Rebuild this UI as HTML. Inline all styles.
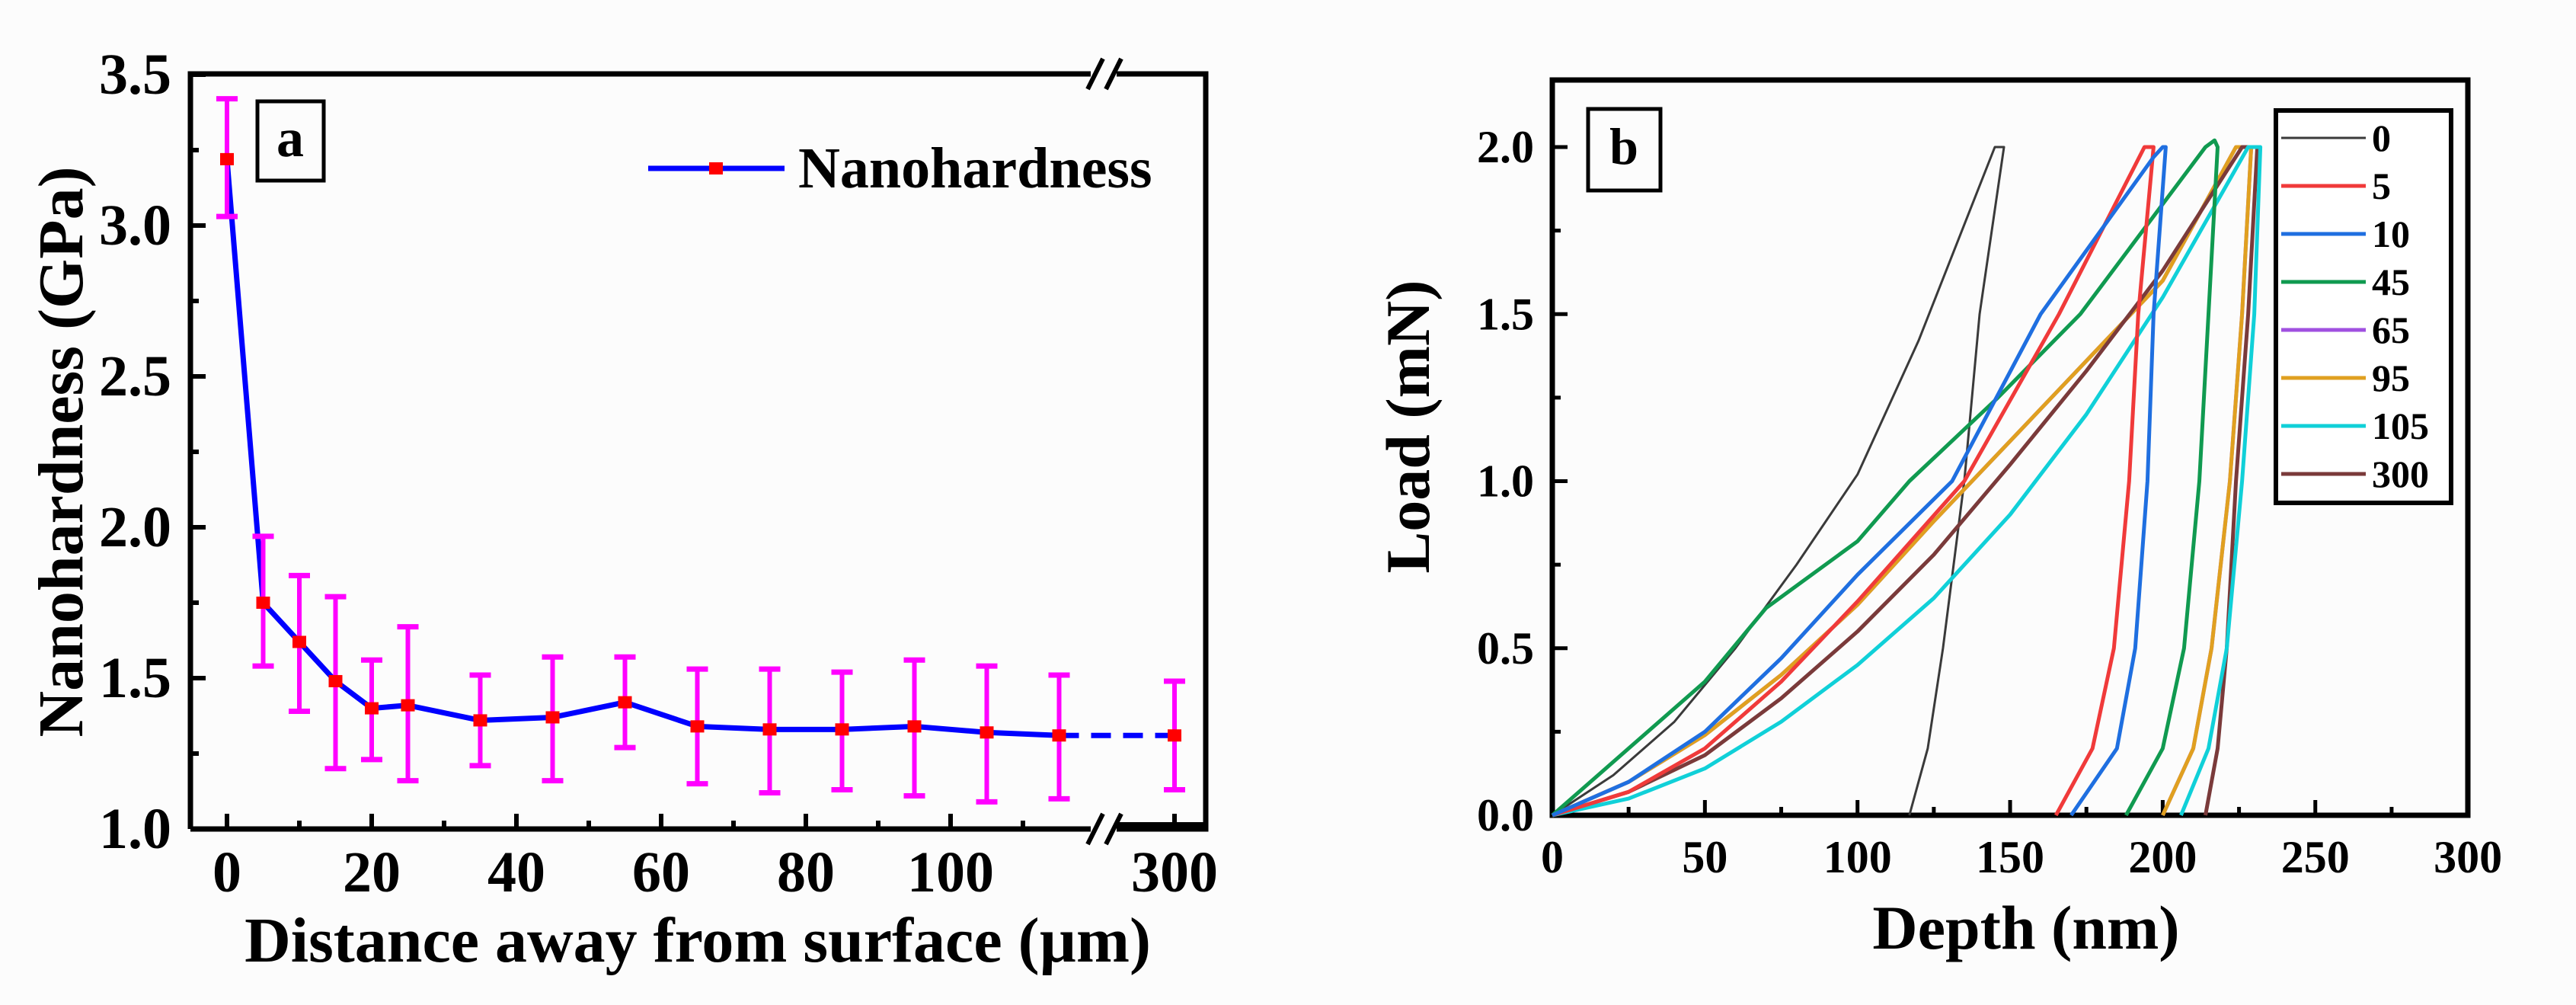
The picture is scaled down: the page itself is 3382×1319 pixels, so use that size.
<!DOCTYPE html>
<html><head><meta charset="utf-8"><style>
html,body{margin:0;padding:0;background:#fff}
svg{display:block}
text{font-family:"Liberation Serif",serif;font-weight:bold;fill:#000}
</style></head><body>
<svg id="fig" width="3382" height="1319" viewBox="0 0 3382 1319">
<rect x="0" y="0" width="3382" height="1319" fill="#fcfcfc"/>
<g id="pa"></g>
<g id="pb"></g>
</svg>
<script>
// ---------- Panel a data ----------
const distCats = [0,5,10,15,20,25,35,45,55,65,75,85,95,105,115,300];
const hardness = [3.22,1.75,1.62,1.49,1.40,1.41,1.36,1.37,1.42,1.34,1.33,1.33,1.34,1.32,1.31,1.31];
const errTop   = [3.42,1.97,1.84,1.77,1.56,1.67,1.51,1.57,1.57,1.53,1.53,1.52,1.56,1.54,1.51,1.49];
const errBot   = [3.03,1.54,1.39,1.20,1.23,1.16,1.21,1.16,1.27,1.15,1.12,1.13,1.11,1.09,1.10,1.13];
const aYTicks = [1.0,1.5,2.0,2.5,3.0,3.5];
const aXTicks = [0,20,40,60,80,100,300];

// ---------- Panel b data ----------
const seriesNames = ["0","5","10","45","65","95","105","300"];
const seriesColors = ["#3a3a3a","#f03a3a","#1f6fe0","#109a50","#a050e0","#e0a020","#10d0d8","#7a3a3a"];
const depth0  = [0,20,40,60,80,100,120,145,148,148,140,135,128,123,117];
const load0   = [0,0.12,0.28,0.5,0.75,1.02,1.42,2.0,2.0,2.0,1.5,1.0,0.5,0.2,0];
const depth5  = [0,25,50,75,100,135,166,194,197,192,189,184,177,165];
const load5   = [0,0.07,0.2,0.4,0.64,1.0,1.5,2.0,2.0,1.5,1.0,0.5,0.2,0];
const depth10 = [0,25,50,75,100,131,160,197,200,201,197,195,191,185,170];
const load10  = [0,0.1,0.25,0.47,0.72,1.0,1.5,1.97,2.0,2.0,1.5,1.0,0.5,0.2,0];
const depth45 = [0,25,50,70,100,117,146,173,214,217,218,215,212,207,200,188];
const load45  = [0,0.2,0.4,0.62,0.82,1.0,1.25,1.5,2.0,2.02,2.0,1.5,1.0,0.5,0.2,0];
const depth65 = [0,25,50,75,100,125,150,175,200,224,229,226,222,216,210,200];
const load65  = [0,0.1,0.24,0.42,0.63,0.88,1.12,1.36,1.6,2.0,2.0,1.5,1.0,0.5,0.2,0];
const depth95 = [0,25,50,75,100,125,150,175,200,224,229,226,222,216,210,200];
const load95  = [0,0.1,0.24,0.42,0.63,0.88,1.12,1.36,1.6,2.0,2.0,1.5,1.0,0.5,0.2,0];
const depth105= [0,25,50,75,100,125,150,175,200,228,232,230,226,221,215,206];
const load105 = [0,0.05,0.14,0.28,0.45,0.65,0.9,1.2,1.55,2.0,2.0,1.5,1.0,0.5,0.2,0];
const depth300= [0,25,50,75,100,125,150,175,200,226,231,228,224,221,218,214];
const load300 = [0,0.07,0.18,0.35,0.55,0.78,1.05,1.33,1.63,2.0,2.0,1.5,1.0,0.5,0.2,0];
const bXTicks = [0,50,100,150,200,250,300];
const bYTicks = ["0.0","0.5","1.0","1.5","2.0"];

const NS="http://www.w3.org/2000/svg";
function mk(parent,tag,attrs,txt){const e=document.createElementNS(NS,tag);for(const k in attrs)e.setAttribute(k,attrs[k]);if(txt!==undefined)e.textContent=txt;parent.appendChild(e);return e;}

// ---------- Panel a ----------
const pa=document.getElementById('pa');
const aL=250,aR=1583,aT=97,aB=1088;
function ax(v){return v>=200?1542+(v-300)*1:298+v*9.5;}
function ay(v){return 1088-(v-1)*396;}
// frame
let f=mk(pa,'path',{d:`M${aL},${aB} L${aL},${aT} L1432,${aT} M1466,${aT} L${aR},${aT} L${aR},${aB} L1466,${aB} M1432,${aB} L${aL},${aB}`,fill:'none',stroke:'#000','stroke-width':7});


let thick=mk(pa,'line',{x1:1466,y1:aB-3,x2:aR,y2:aB-3,stroke:'#000','stroke-width':12});


[[aT],[aB]].forEach(([yy])=>{
  [1428,1452].forEach(xx=>{
    const s=mk(pa,'line',{x1:xx,y1:yy+20,x2:xx+20,y2:yy-20,stroke:'#000','stroke-width':6});
    
    
  });
});
// y ticks
for(let v=1.0;v<=3.5001;v+=0.25){
  const major=Math.abs(v*2-Math.round(v*2))<1e-6;
  const t=mk(pa,'line',{x1:aL,y1:ay(v),x2:aL+(major?20:11),y2:ay(v),stroke:'#000','stroke-width':6});
  
  
}
aYTicks.forEach(v=>{
  const t=mk(pa,'text',{x:225,y:ay(v)+25,'text-anchor':'end','font-size':76},v.toFixed(1));
  
  
});
// x ticks
for(let v=0;v<=110;v+=10){
  const major=v%20===0;
  const t=mk(pa,'line',{x1:ax(v),y1:aB,x2:ax(v),y2:aB-(major?20:11),stroke:'#000','stroke-width':6});
  
  
}
{const t=mk(pa,'line',{x1:ax(300),y1:aB,x2:ax(300),y2:aB-20,stroke:'#000','stroke-width':6});

}
aXTicks.forEach(v=>{
  const t=mk(pa,'text',{x:ax(v),y:1170,'text-anchor':'middle','font-size':76},String(v));
  
  
});
{const t=mk(pa,'text',{x:916,y:1262,'text-anchor':'middle','font-size':84},'Distance away from surface (µm)');


const t2=mk(pa,'text',{x:0,y:0,'text-anchor':'middle','font-size':84,transform:'translate(108,593) rotate(-90)'},'Nanohardness (GPa)');

}
// line
let solid=[],n=distCats.length;
for(let i=0;i<n-1;i++)solid.push(ax(distCats[i])+','+ay(hardness[i]));
{const pl=mk(pa,'polyline',{points:solid.join(' '),fill:'none',stroke:'#0000ff','stroke-width':7,'stroke-linejoin':'round'});


const dl=mk(pa,'line',{x1:ax(distCats[n-2]),y1:ay(hardness[n-2]),x2:ax(distCats[n-1]),y2:ay(hardness[n-1]),stroke:'#0000ff','stroke-width':7,'stroke-dasharray':'26 16'});

}
for(let i=0;i<n;i++){
  const x=ax(distCats[i]);
  const g=mk(pa,'g',{});
  
  
  mk(g,'line',{x1:x,y1:ay(errTop[i]),x2:x,y2:ay(errBot[i]),stroke:'#ff00ff','stroke-width':6});
  mk(g,'line',{x1:x-14,y1:ay(errTop[i]),x2:x+14,y2:ay(errTop[i]),stroke:'#ff00ff','stroke-width':7});
  mk(g,'line',{x1:x-14,y1:ay(errBot[i]),x2:x+14,y2:ay(errBot[i]),stroke:'#ff00ff','stroke-width':7});
  const m=mk(pa,'rect',{x:x-9,y:ay(hardness[i])-8,width:18,height:16,fill:'#ff0000'});
  
  
}
{const b=mk(pa,'rect',{x:338,y:133,width:87,height:104,fill:'none',stroke:'#000','stroke-width':5});


const t=mk(pa,'text',{x:381,y:205,'text-anchor':'middle','font-size':72},'a');


const lg=mk(pa,'g',{});


mk(lg,'line',{x1:851,y1:221,x2:1030,y2:221,stroke:'#0000ff','stroke-width':7});
mk(lg,'rect',{x:931,y:213,width:18,height:16,fill:'#ff0000'});
mk(lg,'text',{x:1048,y:246,'font-size':76},'Nanohardness');}

// ---------- Panel b ----------
const pb=document.getElementById('pb');
const bL=2038,bR=3240,bT=105,bB=1070;
function bx(v){return bL+v*4.007;}
function by(v){return bB-v*438.5;}
{const fr=mk(pb,'rect',{x:bL,y:bT,width:bR-bL,height:bB-bT,fill:'none',stroke:'#000','stroke-width':7});

}
for(let k=0;k<=8;k++){
  const v=k*0.25,major=k%2===0;
  const t=mk(pb,'line',{x1:bL,y1:by(v),x2:bL+(major?20:11),y2:by(v),stroke:'#000','stroke-width':5});
  
  
}
for(let k=0;k<=12;k++){
  const v=k*25,major=k%2===0;
  const t=mk(pb,'line',{x1:bx(v),y1:bB,x2:bx(v),y2:bB-(major?20:11),stroke:'#000','stroke-width':5});
  
  
}
bYTicks.forEach(s=>{
  const t=mk(pb,'text',{x:2014,y:by(parseFloat(s))+20,'text-anchor':'end','font-size':60},s);
  
  
});
bXTicks.forEach(v=>{
  const t=mk(pb,'text',{x:bx(v),y:1145,'text-anchor':'middle','font-size':60},String(v));
  
  
});
{const t=mk(pb,'text',{x:2660,y:1245,'text-anchor':'middle','font-size':82},'Depth (nm)');


const t2=mk(pb,'text',{x:0,y:0,'text-anchor':'middle','font-size':82,transform:'translate(1876,560) rotate(-90)'},'Load (mN)');

}
const depths=[depth0,depth5,depth10,depth45,depth65,depth95,depth105,depth300];
const loads=[load0,load5,load10,load45,load65,load95,load105,load300];
const drawOrder=[0,4,5,7,6,3,1,2];
drawOrder.forEach(i=>{
  const pts=depths[i].map((d,j)=>bx(d).toFixed(1)+','+by(loads[i][j]).toFixed(1)).join(' ');
  const pl=mk(pb,'polyline',{points:pts,fill:'none',stroke:seriesColors[i],'stroke-width':i===0?3:5,'stroke-linejoin':'round'});
  
  
});
{const b=mk(pb,'rect',{x:2085,y:143,width:95,height:107,fill:'none',stroke:'#000','stroke-width':5});


const t=mk(pb,'text',{x:2132,y:215,'text-anchor':'middle','font-size':68},'b');


const lb=mk(pb,'rect',{x:2988,y:145,width:230,height:515,fill:'#fff',stroke:'#000','stroke-width':6});

}
seriesNames.forEach((s,i)=>{
  const yy=181+i*63;
  const g=mk(pb,'g',{});
  
  
  mk(g,'line',{x1:2995,y1:yy,x2:3106,y2:yy,stroke:seriesColors[i],'stroke-width':i===0?3:5});
  mk(g,'text',{x:3114,y:yy+17,'font-size':50},s);
});
</script>
</body></html>
